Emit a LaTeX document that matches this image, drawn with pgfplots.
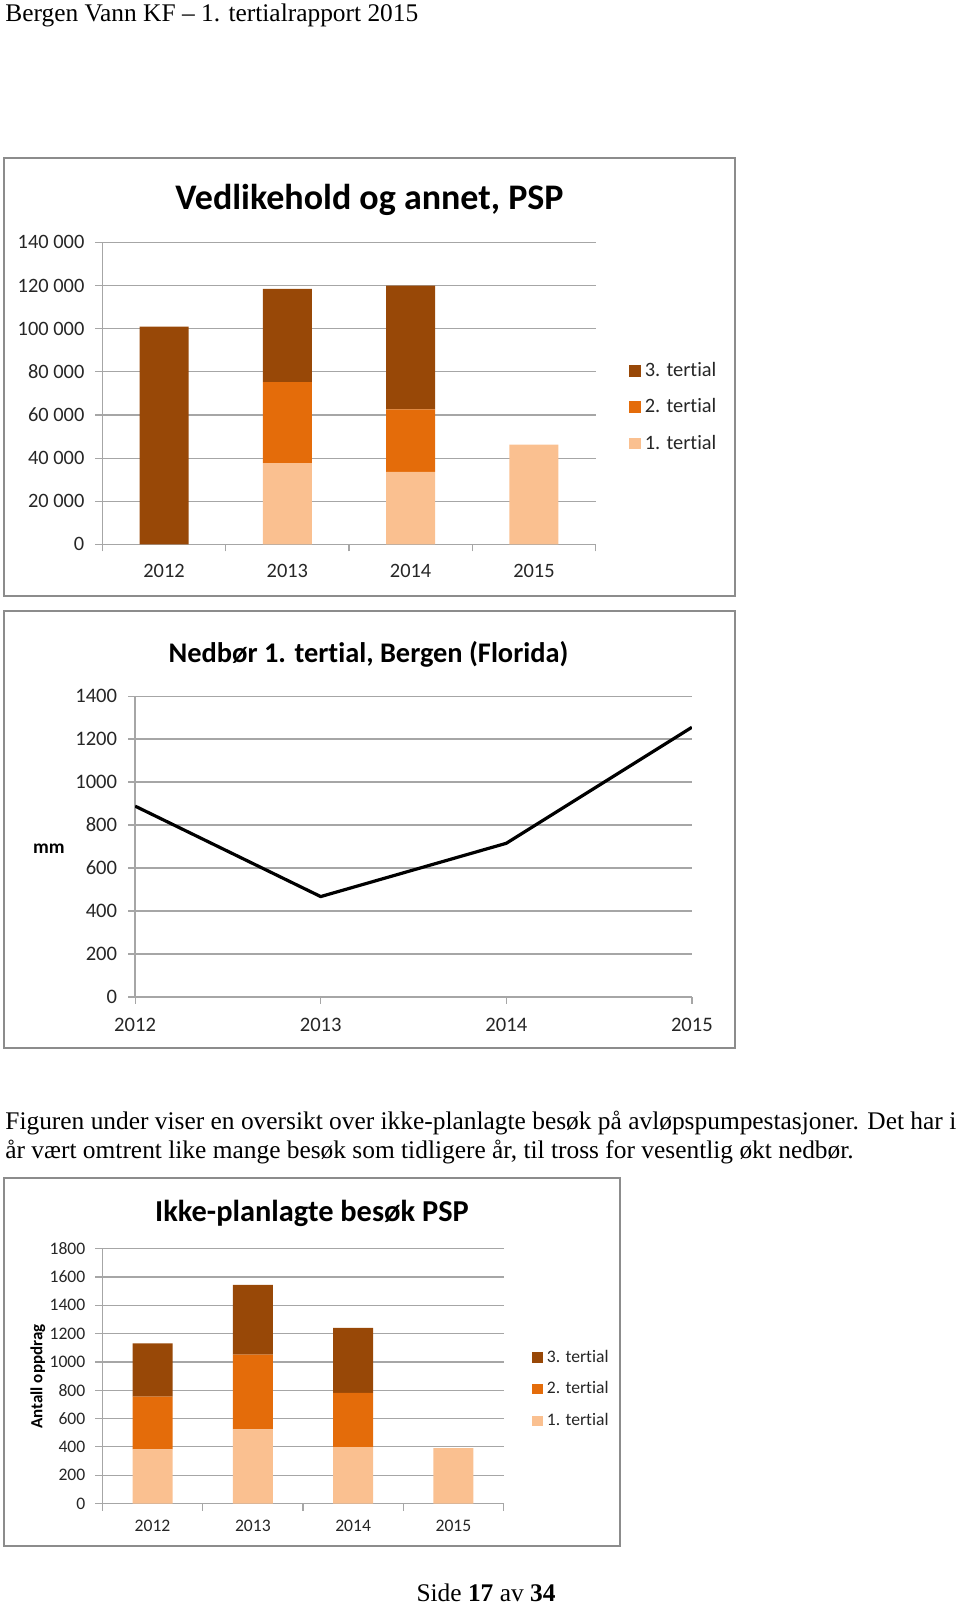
\documentclass[border=0pt]{standalone}
\usepackage{fontspec}
\setmainfont{Carlito}[Ligatures=NoCommon]
\newfontfamily\tnr{Liberation Serif}
\usepackage{pgfplots}
\pgfplotsset{compat=1.18}
\definecolor{tA}{HTML}{FAC090}
\definecolor{tB}{HTML}{E46C0A}
\definecolor{tC}{HTML}{984807}
\definecolor{gridc}{HTML}{A6A6A6}
\definecolor{framec}{HTML}{8C8C8C}
\pgfplotsset{
  common/.style={
    scale only axis, anchor=south west,
    axis lines*=left,
    axis line style={gridc, line width=0.7pt},
    tick align=outside,
    major tick length=3.5pt,
    tick style={gridc, line width=0.6pt},
    ymajorgrids, grid style={gridc, line width=0.6pt},
    tick label style={text=black!85},
    scaled y ticks=false,
  },
  psp/.style={
    common,
    ybar stacked,
    xmin=-0.5, xmax=3.5, ymin=0,
    xtick={-0.5,0.5,1.5,2.5,3.5}, xticklabels={},
    extra x ticks={0,1,2,3},
    extra x tick labels={2012,2013,2014,2015},
    extra x tick style={major tick length=0pt, grid=none},
    reverse legend,
    legend cell align=left,
  },
}
\begin{document}
\begin{tikzpicture}
\useasboundingbox (0,0) rectangle (480pt,-802.5pt);
% header and text
\node[anchor=base west, inner sep=0pt, font=\tnr\fontsize{12.7}{15}\selectfont] at (2.5pt,-10.75pt) {Bergen Vann KF – 1. tertialrapport 2015};
\node[anchor=base west, inner sep=0pt, font=\tnr\fontsize{12.7}{15}\selectfont] at (2.5pt,-564.5pt) {Figuren under viser en oversikt over ikke-planlagte besøk på avløpspumpestasjoner. Det har i};
\node[anchor=base west, inner sep=0pt, font=\tnr\fontsize{12.7}{15}\selectfont] at (2.5pt,-579.3pt) {år vært omtrent like mange besøk som tidligere år, til tross for vesentlig økt nedbør.};
\node[anchor=base, inner sep=0pt, font=\tnr\fontsize{12.7}{15}\selectfont] at (243pt,-800.5pt) {Side \textbf{17} av \textbf{34}};
% frames
\draw[framec, line width=1pt] (2pt,-79pt) rectangle (367.5pt,-298pt);
\draw[framec, line width=1pt] (2pt,-305.5pt) rectangle (367.5pt,-524pt);
\draw[framec, line width=1pt] (2pt,-589pt) rectangle (310pt,-772.75pt);
% titles
\node[font=\bfseries\fontsize{18}{20}\selectfont] at (184.75pt,-99.8pt) {Vedlikehold og annet, PSP};
\node[font=\bfseries\fontsize{14.2}{16}\selectfont] at (184.25pt,-327pt) {Nedbør 1. tertial, Bergen (Florida)};
\node[font=\bfseries\fontsize{15.2}{17}\selectfont] at (156pt,-606.5pt) {Ikke-planlagte besøk PSP};

% Chart 1
\begin{axis}[psp,
  at={(51.2pt,-272.2pt)},
  width=246.6pt, height=151pt,
  ymax=140000,
  bar width=24.5pt,
  ytick={0,20000,40000,60000,80000,100000,120000,140000},
  yticklabels={0,20~000,40~000,60~000,80~000,100~000,120~000,140~000},
  tick label style={font=\fontsize{10.2}{12}\selectfont},
  yticklabel style={xshift=-2pt},
  xticklabel style={yshift=-6.5pt},
  legend style={at={(1.0675,0.454)}, anchor=west, draw=none, fill=none,
    inner sep=0pt, row sep=5.5pt, font=\fontsize{10.2}{12}\selectfont, text=black!85},
  legend image code/.code={\fill[#1] (0pt,-2.9pt) rectangle (5.8pt,2.9pt);},
]
\addplot[fill=tA, draw=none] coordinates {(0,0) (1,37700) (2,33600) (3,46200)};
\addplot[fill=tB, draw=none] coordinates {(0,0) (1,37500) (2,29000) (3,0)};
\addplot[fill=tC, draw=none] coordinates {(0,100900) (1,43200) (2,57400) (3,0)};
\legend{1. tertial, 2. tertial, 3. tertial}
\end{axis}

% Chart 2
\begin{axis}[common,
  at={(67.55pt,-498.45pt)},
  width=278.4pt, height=150.4pt,
  xmin=2012, xmax=2015, ymin=0, ymax=1400,
  xtick={2012,2013,2014,2015}, xticklabels={2012,2013,2014,2015},
  ytick={0,200,...,1400},
  yticklabels={0,200,400,600,800,1000,1200,1400},
  tick label style={font=\fontsize{10.3}{12}\selectfont},
  yticklabel style={xshift=-2pt},
  xticklabel style={yshift=-3.5pt},
  ylabel={mm},
  every axis y label/.style={at={(axis description cs:-0.155,0.493)}, anchor=center, font=\bfseries\fontsize{9.7}{12}\selectfont},
]
\addplot[black, line width=1.6pt, mark=none, line join=round] coordinates {(2012,888) (2013,467) (2014,715) (2015,1255)};
\end{axis}

% Chart 3
\begin{axis}[psp,
  at={(51.2pt,-751.75pt)},
  width=200.6pt, height=127.4pt,
  ymax=1800,
  bar width=20pt,
  ytick={0,200,...,1800},
  yticklabels={0,200,400,600,800,1000,1200,1400,1600,1800},
  tick label style={font=\fontsize{8.8}{10}\selectfont},
  yticklabel style={xshift=-1.5pt},
  xticklabel style={yshift=-4.5pt},
  ylabel={Antall oppdrag},
  every axis y label/.style={at={(axis description cs:-0.1608,0.498)}, rotate=90, anchor=center, font=\bfseries\fontsize{8.5}{10}\selectfont},
  legend style={at={(1.071,0.449)}, anchor=west, draw=none, fill=none,
    inner sep=0pt, row sep=4.2pt, font=\fontsize{8.8}{10}\selectfont, text=black!85},
  legend image code/.code={\fill[#1] (0pt,-2.6pt) rectangle (5.2pt,2.6pt);},
]
\addplot[fill=tA, draw=none] coordinates {(0,383) (1,524) (2,399) (3,392)};
\addplot[fill=tB, draw=none] coordinates {(0,373) (1,527) (2,383) (3,0)};
\addplot[fill=tC, draw=none] coordinates {(0,376) (1,494) (2,458) (3,0)};
\legend{1. tertial, 2. tertial, 3. tertial}
\end{axis}
\end{tikzpicture}
\end{document}
